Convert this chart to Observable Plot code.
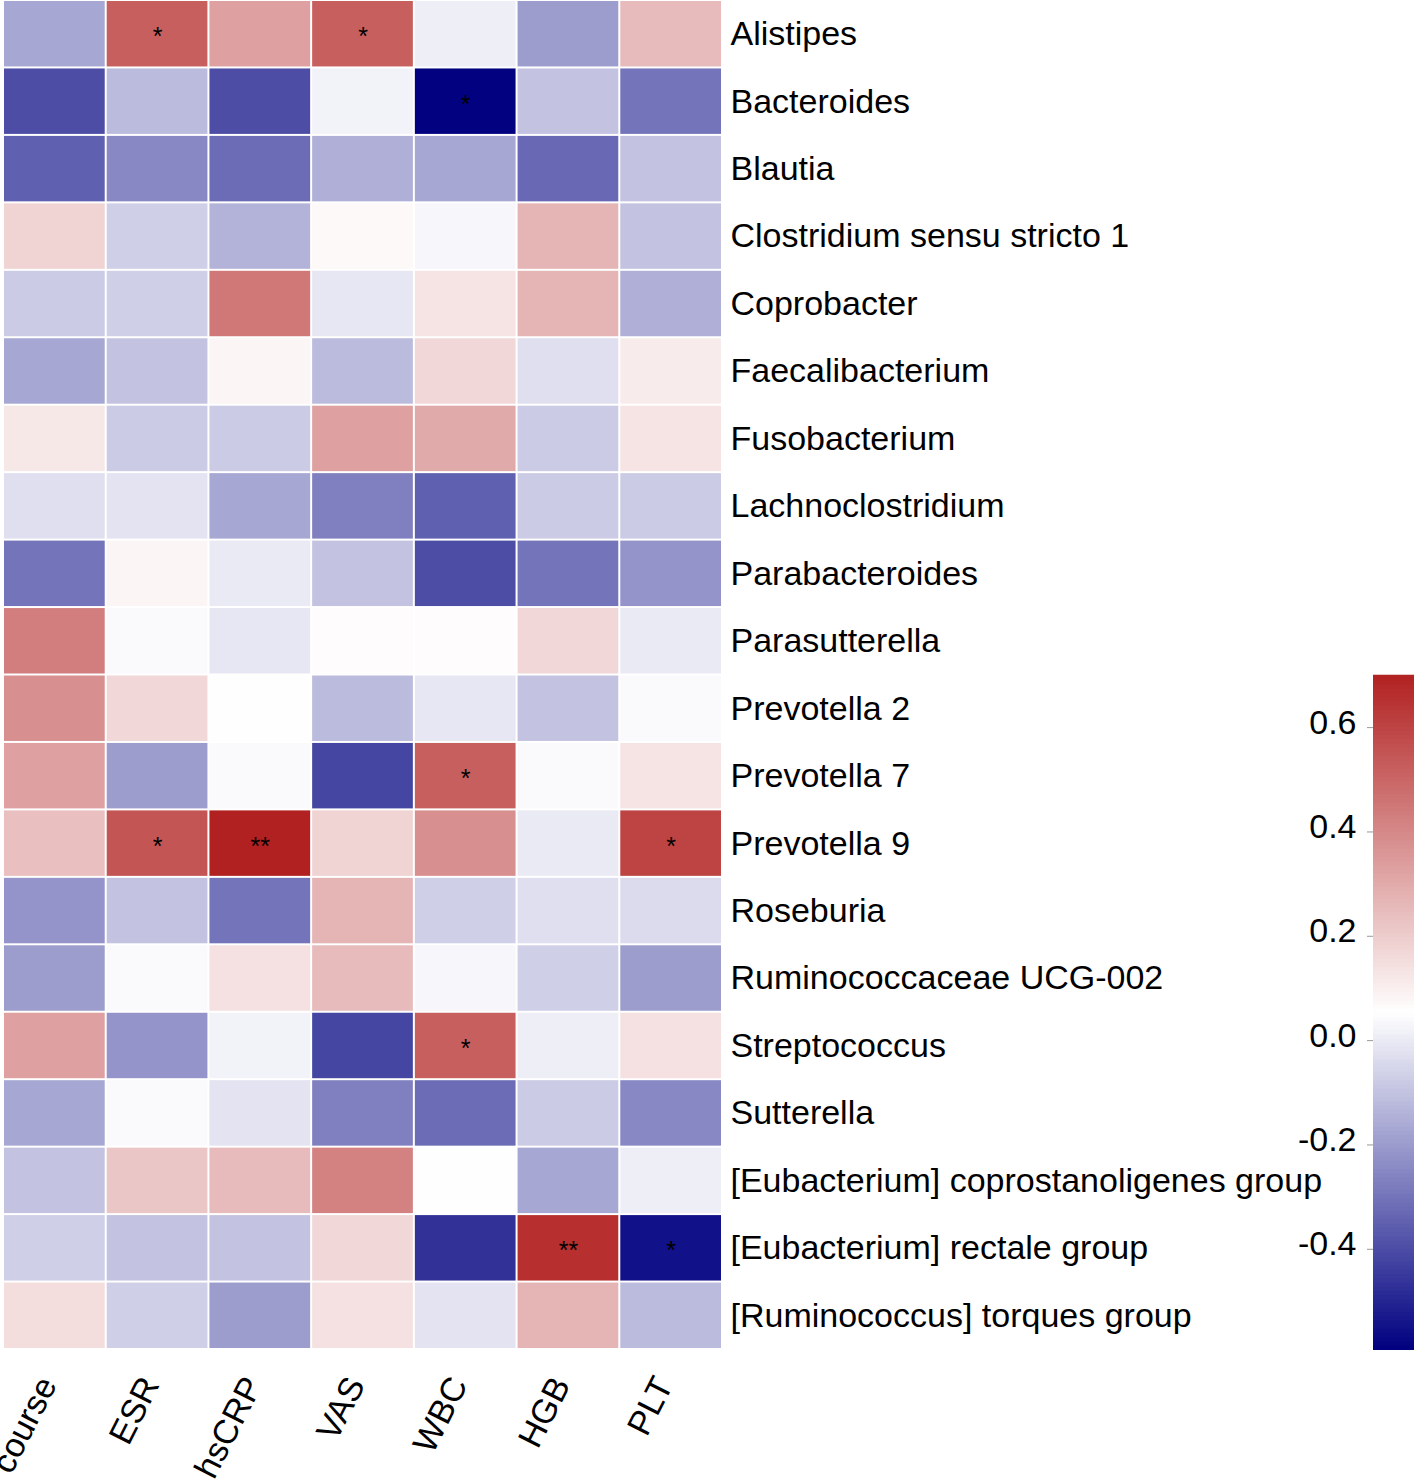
<!DOCTYPE html>
<html><head><meta charset="utf-8">
<script src="https://cdn.jsdelivr.net/npm/d3@7"></script>
<script src="https://cdn.jsdelivr.net/npm/@observablehq/plot@0.6"></script>
<style>
body{margin:0;background:#fff;}
#wrap{position:relative;width:1416px;height:1479px;background:#fff;}
#wrap svg{position:absolute;}
</style></head><body><div id="wrap"></div>
<script>
const columns = ["course","ESR","hsCRP","VAS","WBC","HGB","PLT"];
const taxa = ["Alistipes","Bacteroides","Blautia","Clostridium sensu stricto 1","Coprobacter","Faecalibacterium","Fusobacterium","Lachnoclostridium","Parabacteroides","Parasutterella","Prevotella 2","Prevotella 7","Prevotella 9","Roseburia","Ruminococcaceae UCG-002","Streptococcus","Sutterella","[Eubacterium] coprostanoligenes group","[Eubacterium] rectale group","[Ruminococcus] torques group"];
// correlation values: one row per taxon, columns as above
const values = [
  [-0.17, 0.52, 0.33, 0.52, 0.01, -0.20, 0.25],
  [-0.40, -0.12, -0.40, 0.02, -0.59, -0.10, -0.30],
  [-0.35, -0.25, -0.32, -0.15, -0.17, -0.33, -0.10],
  [0.18, -0.07, -0.14, 0.07, 0.03, 0.27, -0.10],
  [-0.08, -0.07, 0.45, -0.01, 0.13, 0.27, -0.15],
  [-0.17, -0.10, 0.08, -0.12, 0.17, -0.03, 0.11],
  [0.12, -0.08, -0.08, 0.33, 0.30, -0.08, 0.13],
  [-0.03, -0.02, -0.17, -0.27, -0.35, -0.08, -0.08],
  [-0.30, 0.08, 0.00, -0.10, -0.40, -0.30, -0.22],
  [0.43, 0.04, -0.01, 0.06, 0.06, 0.17, 0.00],
  [0.38, 0.17, 0.05, -0.12, -0.01, -0.10, 0.04],
  [0.33, -0.20, 0.04, -0.42, 0.52, 0.04, 0.13],
  [0.24, 0.55, 0.70, 0.18, 0.38, 0.00, 0.60],
  [-0.22, -0.10, -0.30, 0.27, -0.07, -0.03, -0.04],
  [-0.20, 0.04, 0.14, 0.25, 0.03, -0.07, -0.20],
  [0.33, -0.22, 0.02, -0.42, 0.52, 0.01, 0.14],
  [-0.17, 0.04, -0.02, -0.27, -0.32, -0.08, -0.25],
  [-0.10, 0.22, 0.25, 0.42, 0.05, -0.17, 0.01],
  [-0.07, -0.10, -0.10, 0.17, -0.47, 0.66, -0.55],
  [0.15, -0.07, -0.20, 0.14, -0.02, 0.27, -0.12]
];
const signif = [
  ["", "*", "", "*", "", "", ""],
  ["", "", "", "", "*", "", ""],
  ["", "", "", "", "", "", ""],
  ["", "", "", "", "", "", ""],
  ["", "", "", "", "", "", ""],
  ["", "", "", "", "", "", ""],
  ["", "", "", "", "", "", ""],
  ["", "", "", "", "", "", ""],
  ["", "", "", "", "", "", ""],
  ["", "", "", "", "", "", ""],
  ["", "", "", "", "", "", ""],
  ["", "", "", "", "*", "", ""],
  ["", "*", "**", "", "", "", "*"],
  ["", "", "", "", "", "", ""],
  ["", "", "", "", "", "", ""],
  ["", "", "", "", "*", "", ""],
  ["", "", "", "", "", "", ""],
  ["", "", "", "", "", "", ""],
  ["", "", "", "", "", "**", "*"],
  ["", "", "", "", "", "", ""]
];
const legendTicks = [-0.4, -0.2, 0, 0.2, 0.4, 0.6];
const colorDomain = [-0.594, 0.052, 0.698];
const colorRange = ["#000080", "#ffffff", "#B22222"];

const table = taxa.flatMap((t, i) => columns.map((c, j) => ({taxon: t, variable: c, r: values[i][j], sig: signif[i][j]})));
const font = "'Liberation Sans', Arial, Helvetica, sans-serif";
const colorOpts = {type: "linear", domain: colorDomain, range: colorRange, interpolate: "rgb"};

const main = Plot.plot({
  width: 1416, height: 1479,
  marginLeft: 3, marginRight: 694, marginTop: 0, marginBottom: 130,
  style: {fontFamily: font, fontSize: "34px", background: "white", color: "black", overflow: "visible"},
  x: {domain: columns, padding: 0, round: false, label: null, tickRotate: -63, tickSize: 0, tickPadding: 30},
  y: {domain: taxa, padding: 0, round: false, label: null, axis: "right", tickSize: 0, tickPadding: 8},
  color: colorOpts,
  marks: [
    Plot.cell(table, {x: "variable", y: "taxon", fill: "r", inset: 1}),
    Plot.text(table.filter(d => d.sig), {x: "variable", y: "taxon", text: "sig", fontSize: 25, dy: 3, fill: "black"})
  ]
});

const lo = colorDomain[0], hi = colorDomain[2], n = 160;
const ramp = d3.range(n).map(i => ({y1: lo + (hi - lo) * i / n, y2: lo + (hi - lo) * (i + 1.3) / n, v: lo + (hi - lo) * (i + 0.5) / n}));
const bar = Plot.plot({
  width: 136, height: 1479,
  marginLeft: 93, marginRight: 2, marginTop: 676, marginBottom: 129,
  style: {fontFamily: font, fontSize: "34px", background: "transparent", color: "black", overflow: "visible"},
  x: {domain: [0, 1], axis: null},
  y: {domain: [lo, hi], ticks: legendTicks, tickFormat: d => d.toFixed(1), tickSize: 6, tickPadding: 11, label: null, axis: "left"},
  color: colorOpts,
  marks: [
    Plot.rect(ramp, {x1: 0, x2: 1, y1: "y1", y2: "y2", fill: "v"})
  ]
});
bar.style.left = "1280px"; bar.style.top = "0px";
main.style.left = "0px"; main.style.top = "0px";
const wrap = document.getElementById("wrap");
wrap.appendChild(main);
wrap.appendChild(bar);
d3.select(bar).selectAll("[aria-label='y-axis tick']").attr("stroke", "#999");
d3.select(bar).selectAll("[aria-label='y-axis tick label']").attr("transform", function() { const t = this.getAttribute("transform") || ""; return t + " translate(0,-5)"; });
d3.select(main).selectAll("[aria-label='x-axis tick label']").attr("transform", function() { const t = this.getAttribute("transform") || ""; return t + " translate(-7,0)"; });
</script></body></html>
